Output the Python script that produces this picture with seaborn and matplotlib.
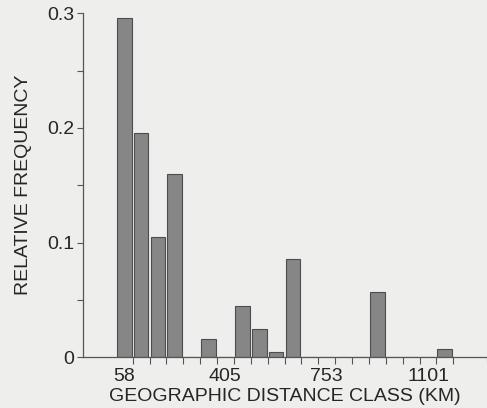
import numpy as np
import pandas as pd
import matplotlib
matplotlib.use("Agg")
import matplotlib.pyplot as plt
import seaborn as sns

# class centres (km) and relative frequency of each distance class
class_km = [58, 116, 174, 232, 290, 348, 405, 463, 521, 579,
            637, 695, 753, 811, 869, 927, 985, 1043, 1101, 1159]
rel_freq = [0.296, 0.196, 0.105, 0.160, 0.0, 0.016, 0.0, 0.0445, 0.025, 0.0046,
            0.086, 0.0, 0.0, 0.0, 0.0, 0.057, 0.0, 0.0, 0.0, 0.0076]
xtick_labels = ["58", "405", "753", "1101"]
ytick_labels = ["0", "0.1", "0.2", "0.3"]

class_width = 57.92

sns.set_style("ticks")
plt.rcParams['font.family'] = ['Liberation Sans', 'DejaVu Sans']

bg = '#eeeeec'
ink = '#262626'

df = pd.DataFrame({'km': class_km, 'freq': rel_freq})

fig = plt.figure(figsize=(4.87, 4.08), dpi=100, facecolor=bg)
ax = fig.add_axes([0.1698, 0.1243, 0.8302, 0.8431])
ax.set_facecolor(bg)

edges = [class_km[0] - class_width / 2 + class_width * i for i in range(len(class_km) + 1)]
sns.histplot(data=df, x='km', weights='freq', bins=edges, shrink=0.87,
             color='#868686', edgecolor='#4d4d4d', linewidth=0.8, alpha=1.0, ax=ax)

# axis limits
x_right = class_km[0] + 21.5 * class_width
ax.set_xlim(class_km[0] - 2.46 * class_width, x_right)
ax.set_ylim(0, 0.3)

# x: labels under class centres, tick marks on class boundaries
ax.set_xticks([float(t) for t in xtick_labels])
ax.set_xticklabels(xtick_labels)
ax.set_xticks(edges[1:] + [x_right], minor=True)
ax.tick_params(axis='x', which='major', length=0, pad=8, labelsize=14, labelcolor=ink)
ax.tick_params(axis='x', which='minor', length=5, width=0.8, color='#555555', direction='out')

# y ticks
ax.set_yticks([float(t) for t in ytick_labels])
ax.set_yticklabels(ytick_labels)
ax.set_yticks([0.05, 0.15, 0.25], minor=True)
ax.tick_params(axis='y', which='both', length=4, width=0.8, color='#555555', pad=2,
               labelsize=14, labelcolor=ink)

for s in ['top', 'right']:
    ax.spines[s].set_visible(False)
for s in ['left', 'bottom']:
    ax.spines[s].set_color('#555555')
    ax.spines[s].set_linewidth(0.9)

ax.set_xlabel("GEOGRAPHIC DISTANCE CLASS (KM)", fontsize=14, color=ink, labelpad=2)
ax.set_ylabel("RELATIVE FREQUENCY", fontsize=14, color=ink, labelpad=11)

fig.savefig("out.png", dpi=100, facecolor=bg)
